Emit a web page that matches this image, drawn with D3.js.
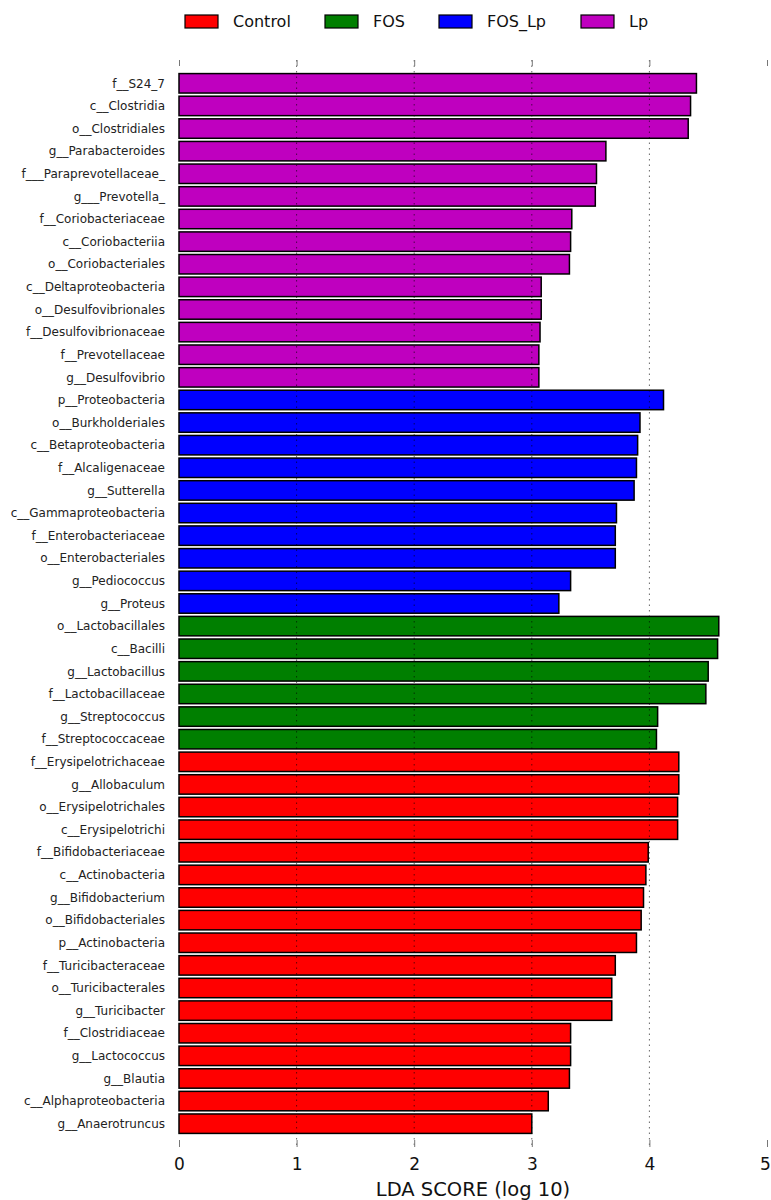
<!DOCTYPE html>
<html>
<head>
<meta charset="utf-8">
<script src="https://cdn.jsdelivr.net/npm/d3@7"></script>
<style>
  body { margin: 0; background: #fff; }
  svg { font-family: "DejaVu Sans", sans-serif; }
</style>
</head>
<body>
<svg id="lefse"></svg>
<script>
/* Data: one array per class, top to bottom as drawn */
const groups = ["Control", "FOS", "FOS_Lp", "Lp"];
const groupColors = ["#ff0000", "#007f00", "#0000ff", "#bf00bf"];

const lpTaxa = ["f__S24_7", "c__Clostridia", "o__Clostridiales", "g__Parabacteroides", "f___Paraprevotellaceae_", "g___Prevotella_", "f__Coriobacteriaceae", "c__Coriobacteriia", "o__Coriobacteriales", "c__Deltaproteobacteria", "o__Desulfovibrionales", "f__Desulfovibrionaceae", "f__Prevotellaceae", "g__Desulfovibrio"];
const lpScores = [4.40, 4.35, 4.33, 3.63, 3.55, 3.54, 3.34, 3.33, 3.32, 3.08, 3.08, 3.07, 3.06, 3.06];

const fosLpTaxa = ["p__Proteobacteria", "o__Burkholderiales", "c__Betaproteobacteria", "f__Alcaligenaceae", "g__Sutterella", "c__Gammaproteobacteria", "f__Enterobacteriaceae", "o__Enterobacteriales", "g__Pediococcus", "g__Proteus"];
const fosLpScores = [4.12, 3.92, 3.90, 3.89, 3.87, 3.72, 3.71, 3.71, 3.33, 3.23];

const fosTaxa = ["o__Lactobacillales", "c__Bacilli", "g__Lactobacillus", "f__Lactobacillaceae", "g__Streptococcus", "f__Streptococcaceae"];
const fosScores = [4.59, 4.58, 4.50, 4.48, 4.07, 4.06];

const controlTaxa = ["f__Erysipelotrichaceae", "g__Allobaculum", "o__Erysipelotrichales", "c__Erysipelotrichi", "f__Bifidobacteriaceae", "c__Actinobacteria", "g__Bifidobacterium", "o__Bifidobacteriales", "p__Actinobacteria", "f__Turicibacteraceae", "o__Turicibacterales", "g__Turicibacter", "f__Clostridiaceae", "g__Lactococcus", "g__Blautia", "c__Alphaproteobacteria", "g__Anaerotruncus"];
const controlScores = [4.25, 4.25, 4.24, 4.24, 3.99, 3.97, 3.95, 3.93, 3.89, 3.71, 3.68, 3.68, 3.33, 3.33, 3.32, 3.14, 3.00];

const xTicks = [0, 1, 2, 3, 4, 5];

/* Build rows */
const rows = [];
function addRows(taxa, scores, group) {
  taxa.forEach((t, i) => rows.push({ taxon: t, score: scores[i], group: group }));
}
addRows(lpTaxa, lpScores, "Lp");
addRows(fosLpTaxa, fosLpScores, "FOS_Lp");
addRows(fosTaxa, fosScores, "FOS");
addRows(controlTaxa, controlScores, "Control");

/* Dimensions */
const width = 771, height = 1200;
const margin = { top: 72, left: 179 };

const svg = d3.select("#lefse").attr("width", width).attr("height", height);

const x = d3.scaleLinear().domain([0, 5]).range([margin.left, 767]);
const y = d3.scaleBand()
  .domain(rows.map(d => d.taxon))
  .range([margin.top, 1135])
  .paddingInner(0.14)
  .paddingOuter(0.07);
const color = d3.scaleOrdinal().domain(groups).range(groupColors);

/* Bars */
svg.append("g").selectAll("rect")
  .data(rows)
  .join("rect")
    .attr("x", x(0))
    .attr("y", d => y(d.taxon))
    .attr("width", d => x(d.score) - x(0))
    .attr("height", y.bandwidth())
    .attr("fill", d => color(d.group))
    .attr("stroke", "#000")
    .attr("stroke-width", 1.5);

/* Grid lines over the bars */
svg.append("g").selectAll("line")
  .data(xTicks.filter(t => t > 0 && t < 5))
  .join("line")
    .attr("x1", d => x(d)).attr("x2", d => x(d))
    .attr("y1", 60).attr("y2", 1147)
    .attr("stroke", "#000")
    .attr("stroke-opacity", 0.6)
    .attr("stroke-width", 1)
    .attr("stroke-dasharray", "1.5,4");

/* Top and bottom ticks */
const tickTop = svg.append("g").attr("transform", "translate(0,66)")
  .call(d3.axisTop(x).tickValues(xTicks).tickSize(6).tickFormat(""));
tickTop.select(".domain").remove();
tickTop.selectAll("line").attr("stroke", "#777");

const axisBottom = svg.append("g").attr("transform", "translate(0,1140)")
  .call(d3.axisBottom(x).tickValues(xTicks).tickSize(7).tickPadding(11).tickFormat(d3.format("d")));
axisBottom.select(".domain").remove();
axisBottom.selectAll("line").attr("stroke", "#777");
axisBottom.selectAll("text")
  .attr("font-family", "DejaVu Sans, sans-serif")
  .attr("font-size", 17)
  .attr("fill", "#111")
  .attr("dx", d => d === 5 ? -2 : 0);

/* Row labels */
svg.append("g").selectAll("text")
  .data(rows)
  .join("text")
    .attr("x", 165)
    .attr("y", d => y(d.taxon) + y.bandwidth() / 2)
    .attr("dy", "0.35em")
    .attr("text-anchor", "end")
    .attr("font-size", 12)
    .attr("fill", "#222")
    .text(d => d.taxon);

/* Axis title */
svg.append("text")
  .attr("x", 473)
  .attr("y", 1196)
  .attr("text-anchor", "middle")
  .attr("font-size", 19.5)
  .attr("fill", "#111")
  .text("LDA SCORE (log 10)");

/* Legend */
const legendX = [185, 325, 439, 581];
const legend = svg.append("g").selectAll("g")
  .data(groups)
  .join("g")
    .attr("transform", (d, i) => `translate(${legendX[i]},15)`);
legend.append("rect")
  .attr("width", 33).attr("height", 13)
  .attr("fill", d => color(d))
  .attr("stroke", "#000").attr("stroke-width", 1.2);
legend.append("text")
  .attr("x", 48).attr("y", 12)
  .attr("font-size", 16)
  .attr("fill", "#111")
  .text(d => d);
</script>
</body>
</html>
